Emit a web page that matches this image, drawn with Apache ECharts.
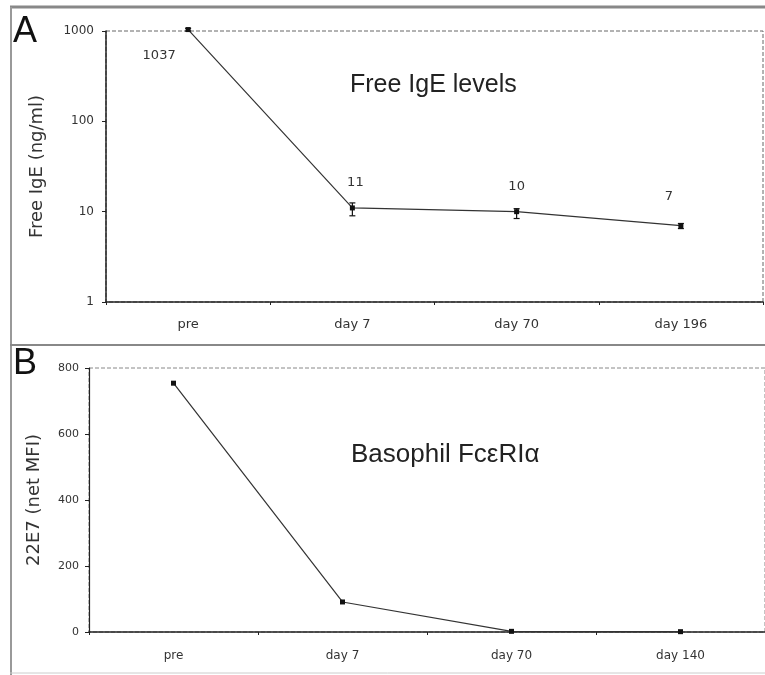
<!DOCTYPE html>
<html>
<head>
<meta charset="UTF-8">
<title>Free IgE / Basophil FcεRIα</title>
<script src="https://cdn.jsdelivr.net/npm/echarts@6/dist/echarts.min.js"></script>
<style>
  body { margin: 0; padding: 0; background: #fff; }
  #chart { width: 765px; height: 675px; }
</style>
</head>
<body>
<div id="chart"></div>
<script>
// panel A - free IgE (log scale)
var igeDays = ['pre', 'day 7', 'day 70', 'day 196'];
var igeValues = [1037, 11, 10, 7];
var igeLabels = ['1037', '11', '10', '7'];
var igeErrLow = [1000, 9, 8.4, 6.5];
var igeErrHigh = [1070, 12.5, 10.8, 7.4];
var igeTicks = [1, 10, 100, 1000];

// panel B - basophil FceRIa
var basoDays = ['pre', 'day 7', 'day 70', 'day 140'];
var basoValues = [754, 91, 2, 1];
var basoTicks = [0, 200, 400, 600, 800];

var chart = echarts.init(document.getElementById('chart'));

var tickFont = { fontFamily: 'DejaVu Sans', fontSize: 12, color: '#333' };
// where the value labels sit relative to their point
var labelShift = [[-29, 26], [3, -25], [0, -25], [-12, -29]];

var option = {
  animation: false,
  backgroundColor: '#fff',
  title: [
    { text: 'Free IgE levels', left: 345, top: 68,
      textStyle: { fontFamily: 'Liberation Sans', fontSize: 25, fontWeight: 'normal', color: '#222' } },
    { text: 'Basophil FcεRIα', left: 346, top: 437,
      textStyle: { fontFamily: 'Liberation Sans', fontSize: 26, fontWeight: 'normal', color: '#222' } }
  ],
  graphic: [
    { type: 'line', shape: { x1: 10, y1: 7, x2: 765, y2: 7 }, style: { stroke: '#888', lineWidth: 3 } },
    { type: 'line', shape: { x1: 11, y1: 7, x2: 11, y2: 675 }, style: { stroke: '#999', lineWidth: 2 } },
    { type: 'line', shape: { x1: 10, y1: 345, x2: 765, y2: 345 }, style: { stroke: '#888', lineWidth: 2 } },
    { type: 'line', shape: { x1: 10, y1: 673, x2: 765, y2: 673 }, style: { stroke: '#ccc', lineWidth: 1 } },
    { type: 'text', left: 13, top: 14, style: { text: 'A', font: '36px Liberation Sans', fill: '#111' } },
    { type: 'text', left: 13, top: 346, style: { text: 'B', font: '36px Liberation Sans', fill: '#111' } }
  ],
  grid: [
    { left: 106, top: 31, width: 657, height: 271, show: true,
      borderColor: '#666', borderWidth: 1, borderType: 'dashed' },
    { left: 89, top: 368, width: 678, height: 264, show: true,
      borderColor: '#888', borderWidth: 1, borderType: 'dashed' }
  ],
  xAxis: [
    { gridIndex: 0, type: 'category', data: igeDays, boundaryGap: true,
      axisLine: { lineStyle: { color: '#222', width: 1.5 } },
      axisTick: { show: true, length: 3, lineStyle: { color: '#222' } },
      axisLabel: Object.assign({ margin: 16 }, tickFont, { fontSize: 13 }) },
    { gridIndex: 1, type: 'category', data: basoDays, boundaryGap: true,
      axisLine: { lineStyle: { color: '#222', width: 1.5 } },
      axisTick: { show: true, length: 3, lineStyle: { color: '#222' } },
      axisLabel: Object.assign({ margin: 18 }, tickFont) }
  ],
  yAxis: [
    { gridIndex: 0, type: 'log', logBase: 10, min: igeTicks[0], max: igeTicks[igeTicks.length - 1],
      name: 'Free IgE (ng/ml)', nameLocation: 'middle', nameGap: 60,
      nameTextStyle: { fontFamily: 'DejaVu Sans', fontSize: 18, color: '#333' },
      axisLine: { show: true, lineStyle: { color: '#222', width: 1.5 } },
      axisTick: { show: true, length: 4, lineStyle: { color: '#222' } },
      splitLine: { show: false },
      axisLabel: Object.assign({ margin: 12, formatter: function (v) { return String(v); } }, tickFont) },
    { gridIndex: 1, type: 'value', min: basoTicks[0], max: basoTicks[basoTicks.length - 1], interval: 200,
      name: '22E7 (net MFI)', nameLocation: 'middle', nameGap: 46,
      nameTextStyle: { fontFamily: 'DejaVu Sans', fontSize: 18, color: '#333' },
      axisLine: { show: true, lineStyle: { color: '#222', width: 1.2 } },
      axisTick: { show: true, length: 4, lineStyle: { color: '#222' } },
      splitLine: { show: false },
      axisLabel: Object.assign({ margin: 10 }, tickFont, { fontSize: 11 }) }
  ],
  series: [
    {
      type: 'custom', xAxisIndex: 0, yAxisIndex: 0, z: 3, clip: false,
      data: igeDays.map(function (d, i) { return [i, igeErrLow[i], igeErrHigh[i]]; }),
      renderItem: function (params, api) {
        var lo = api.coord([api.value(0), api.value(1)]);
        var hi = api.coord([api.value(0), api.value(2)]);
        var w = 3;
        var st = { stroke: '#111', lineWidth: 1.2 };
        return { type: 'group', children: [
          { type: 'line', shape: { x1: lo[0], y1: lo[1], x2: hi[0], y2: hi[1] }, style: st },
          { type: 'line', shape: { x1: lo[0] - w, y1: lo[1], x2: lo[0] + w, y2: lo[1] }, style: st },
          { type: 'line', shape: { x1: hi[0] - w, y1: hi[1], x2: hi[0] + w, y2: hi[1] }, style: st }
        ] };
      }
    },
    {
      type: 'line', xAxisIndex: 0, yAxisIndex: 0, z: 4, clip: false,
      data: igeValues,
      symbol: 'rect', symbolSize: 5,
      lineStyle: { color: '#333', width: 1.2 },
      itemStyle: { color: '#111' },
      label: {
        show: true, position: 'inside',
        formatter: function (p) { return igeLabels[p.dataIndex]; },
        fontFamily: 'DejaVu Sans', fontSize: 13, color: '#333'
      },
      labelLayout: function (p) {
        var s = labelShift[p.dataIndex];
        return { dx: s[0], dy: s[1], hideOverlap: false };
      }
    },
    {
      type: 'line', xAxisIndex: 1, yAxisIndex: 1, z: 4, clip: false,
      data: basoValues,
      symbol: 'rect', symbolSize: 5,
      lineStyle: { color: '#333', width: 1.2 },
      itemStyle: { color: '#111' }
    }
  ]
};

chart.setOption(option);
</script>
</body>
</html>
